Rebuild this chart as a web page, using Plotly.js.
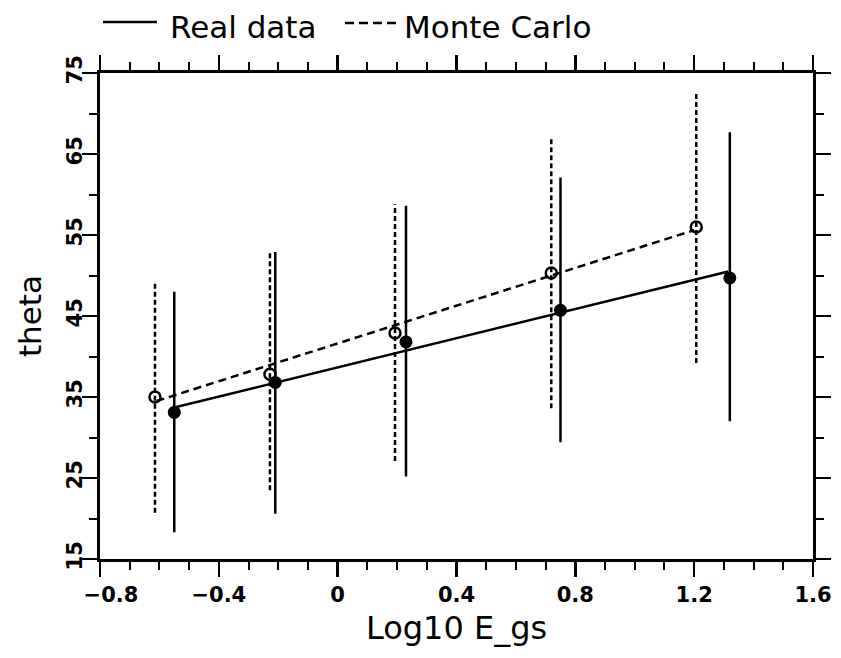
<!DOCTYPE html>
<html>
<head>
<meta charset="utf-8">
<script src="https://cdn.plot.ly/plotly-3.0.1.min.js"></script>
<style>html,body{margin:0;padding:0;background:#fff;}#chart{width:841px;height:658px;}</style>
</head>
<body>
<div id="chart"></div>
<script>
// Real data (filled circles, solid)
const realX    = [-0.55, -0.21, 0.23, 0.75, 1.32];
const realY    = [33.1, 36.8, 41.8, 45.7, 49.7];
const realHigh = [48.0, 52.9, 58.6, 62.1, 67.7];
const realLow  = [18.3, 20.6, 25.2, 29.4, 32.0];
// Monte Carlo (open circles, dashed)
const mcX    = [-0.615, -0.228, 0.193, 0.719, 1.207];
const mcY    = [35.0, 37.8, 42.9, 50.3, 56.0];
const mcHigh = [49.2, 52.8, 58.8, 66.9, 72.7];
const mcLow  = [20.7, 23.5, 27.1, 33.6, 39.2];
// Fitted lines (end points)
const realFitX = [-0.55, 1.315];
const realFitY = [33.7, 50.5];
const mcFitX   = [-0.61, 1.2];
const mcFitY   = [34.5, 55.6];
// Axis ticks
const xTickVals = [-0.8, -0.4, 0, 0.4, 0.8, 1.2, 1.6];
const xTickText = ['\u00a0\u00a0\u00a0\u22120.8', '\u22120.4', '0', '0.4', '0.8', '1.2', '1.6'];
const yTickVals = [15, 25, 35, 45, 55, 65, 75];
const yTickText = ['15', '25', '35', '45', '55', '65', '75'];
const legendNames = ['Real data', 'Monte Carlo'];

const FONT = 'DejaVu Sans, Arial, sans-serif';

// dashed Monte Carlo error bars as line segments
const mcBarX = [], mcBarY = [];
for (let i = 0; i < mcX.length; i++) {
  mcBarX.push(mcX[i], mcX[i], null);
  mcBarY.push(mcLow[i], mcHigh[i], null);
}

const traces = [
  {x: mcBarX, y: mcBarY, mode: 'lines', type: 'scatter', showlegend: false,
   line: {color: 'black', width: 2.5, dash: '5px,3px'}, hoverinfo: 'skip'},
  {x: realFitX, y: realFitY, mode: 'lines', type: 'scatter', showlegend: false,
   line: {color: 'black', width: 2.5}},
  {x: mcFitX, y: mcFitY, mode: 'lines', type: 'scatter', showlegend: false,
   line: {color: 'black', width: 2.5, dash: '8px,5px'}},
  {x: realX, y: realY, mode: 'markers', type: 'scatter', showlegend: false, name: legendNames[0],
   marker: {color: 'black', size: 13, symbol: 'circle'},
   error_y: {type: 'data', symmetric: false,
     array: realHigh.map((h, i) => h - realY[i]),
     arrayminus: realLow.map((l, i) => realY[i] - l),
     width: 0, thickness: 2.5, color: 'black'}},
  {x: mcX, y: mcY, mode: 'markers', type: 'scatter', showlegend: false, name: legendNames[1],
   marker: {color: 'black', size: 11, symbol: 'circle-open', line: {color: 'black', width: 2.5}}}
];

const axisCommon = {
  showline: true, linecolor: 'black', linewidth: 3, mirror: 'ticks',
  ticks: 'outside', ticklen: 15, tickwidth: 2.5, tickcolor: 'black',
  showgrid: false, zeroline: false,
  tickfont: {family: FONT, size: 21, color: 'black', weight: 'bold'}
};

const layout = {
  width: 841, height: 658,
  margin: {l: 100, r: 28, t: 73, b: 99},
  paper_bgcolor: 'white', plot_bgcolor: 'white',
  showlegend: false,
  xaxis: Object.assign({}, axisCommon, {
    range: [-0.8, 1.6], tickmode: 'array', tickvals: xTickVals, ticktext: xTickText,
    minor: {dtick: 0.1, tick0: -0.8, ticks: 'outside', ticklen: 8, tickwidth: 2, tickcolor: 'black', showgrid: false},
    title: {text: 'Log10 E_gs', font: {family: FONT, size: 32, color: 'black'}, standoff: 11}
  }),
  yaxis: Object.assign({}, axisCommon, {
    range: [15, 75], tickmode: 'array', tickvals: yTickVals, ticktext: yTickText, tickangle: -90,
    ticklabelstandoff: -8,
    minor: {dtick: 5, tick0: 15, ticks: 'outside', ticklen: 8, tickwidth: 2, tickcolor: 'black', showgrid: false},
    title: {text: 'theta', font: {family: FONT, size: 31, color: 'black'}, standoff: 12}
  }),
  shapes: [
    {type: 'line', xref: 'paper', yref: 'paper', x0: 0.0042, x1: 0.0799, y0: 1.105, y1: 1.105,
     line: {color: 'black', width: 2.5}},
    {type: 'line', xref: 'paper', yref: 'paper', x0: 0.3436, x1: 0.4166, y0: 1.1029, y1: 1.1029,
     line: {color: 'black', width: 2.5, dash: '9px,5px'}}
  ],
  annotations: [
    {xref: 'paper', yref: 'paper', x: 0.0954, y: 1.095, xanchor: 'left', yanchor: 'middle',
     text: legendNames[0], showarrow: false, font: {family: FONT, size: 31, color: 'black'}},
    {xref: 'paper', yref: 'paper', x: 0.4236, y: 1.095, xanchor: 'left', yanchor: 'middle',
     text: legendNames[1], showarrow: false, font: {family: FONT, size: 31, color: 'black'}}
  ]
};

Plotly.newPlot('chart', traces, layout, {staticPlot: true, displayModeBar: false});
</script>
</body>
</html>
